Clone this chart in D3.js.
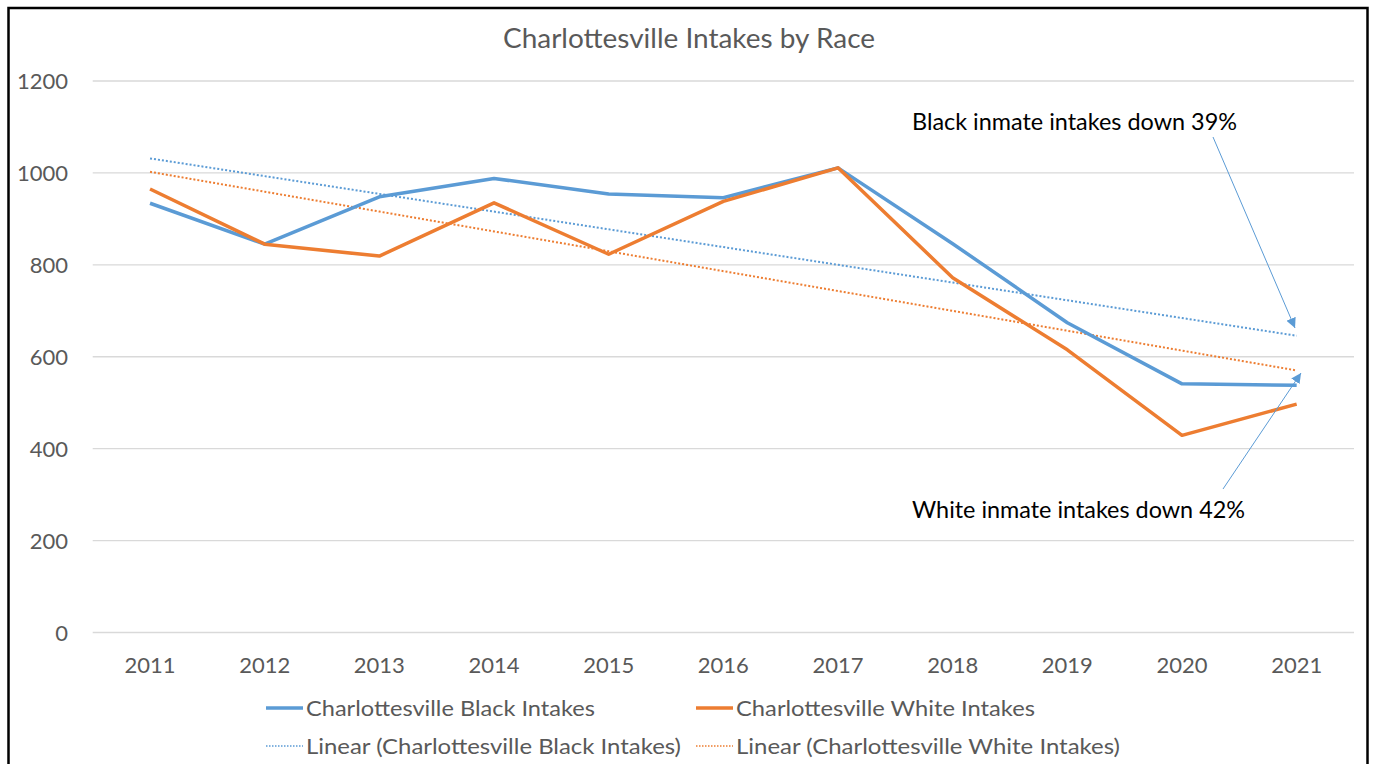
<!DOCTYPE html>
<html>
<head>
<meta charset="utf-8">
<script src="https://cdn.jsdelivr.net/npm/d3@7"></script>
<style>
  body { margin: 0; background: #fff; }
  svg { display: block; font-family: Lato, "Open Sans", sans-serif; }
</style>
</head>
<body>
<div id="chart"></div>
<script>
// Data
const years = ["2011", "2012", "2013", "2014", "2015", "2016", "2017", "2018", "2019", "2020", "2021"];
const blackIntakes = [934, 845, 948, 988, 954, 946, 1011, 846, 674, 541, 538];
const whiteIntakes = [965, 845, 819, 935, 823, 938, 1011, 772, 615, 429, 497];
const yTicks = [0, 200, 400, 600, 800, 1000, 1200];

const title = "Charlottesville Intakes by Race";
const blackNote = "Black inmate intakes down 39%";
const whiteNote = "White inmate intakes down 42%";

// Setup
const svgWidth = 1375;
const svgHeight = 764;
const blue = "#5b9bd5";
const orange = "#ed7d31";
const grey = "#595959";

const svg = d3.select("#chart")
    .append("svg")
    .attr("width", svgWidth)
    .attr("height", svgHeight);

// outer chart frame (bottom edge is cut off in the reference)
svg.append("rect")
    .attr("x", 8.5).attr("y", 8)
    .attr("width", 1359).attr("height", 820)
    .attr("fill", "none")
    .attr("stroke", "#000")
    .attr("stroke-width", 2.5);

const x = d3.scalePoint()
    .domain(years)
    .range([92.7, 1354])
    .padding(0.5);

const y = d3.scaleLinear()
    .domain([0, 1200])
    .range([632.5, 81]);

// gridlines
svg.append("g")
  .selectAll("line")
  .data(yTicks)
  .enter().append("line")
    .attr("x1", 92.7).attr("x2", 1354)
    .attr("y1", d => y(d)).attr("y2", d => y(d))
    .attr("stroke", "#d9d9d9")
    .attr("stroke-width", 1.3);

// y axis labels
svg.append("g")
  .selectAll("text")
  .data(yTicks)
  .enter().append("text")
    .attr("x", 68)
    .attr("y", d => y(d) + 8)
    .attr("text-anchor", "end")
    .attr("font-size", 22)
    .attr("fill", grey)
    .text(d => d);

// x axis labels
svg.append("g")
  .selectAll("text")
  .data(years)
  .enter().append("text")
    .attr("x", d => x(d))
    .attr("y", 673)
    .attr("text-anchor", "middle")
    .attr("font-size", 22)
    .attr("fill", grey)
    .text(d => d);

// linear trend lines (least squares, as the spreadsheet does)
function trend(values) {
  const n = values.length;
  const mx = (n - 1) / 2;
  const my = d3.mean(values);
  let sxy = 0, sxx = 0;
  values.forEach((v, i) => { sxy += (i - mx) * (v - my); sxx += (i - mx) * (i - mx); });
  const slope = sxy / sxx;
  return values.map((v, i) => my + slope * (i - mx));
}

const line = d3.line()
    .x((d, i) => x(years[i]))
    .y(d => y(d));

svg.append("path")
    .datum(trend(blackIntakes))
    .attr("d", line)
    .attr("fill", "none")
    .attr("stroke", blue)
    .attr("stroke-width", 2)
    .attr("stroke-dasharray", "2,2");

svg.append("path")
    .datum(trend(whiteIntakes))
    .attr("d", line)
    .attr("fill", "none")
    .attr("stroke", orange)
    .attr("stroke-width", 2)
    .attr("stroke-dasharray", "2,2");

svg.append("path")
    .datum(blackIntakes)
    .attr("d", line)
    .attr("fill", "none")
    .attr("stroke", blue)
    .attr("stroke-width", 3.5)
    .attr("stroke-linejoin", "round");

svg.append("path")
    .datum(whiteIntakes)
    .attr("d", line)
    .attr("fill", "none")
    .attr("stroke", orange)
    .attr("stroke-width", 3.5)
    .attr("stroke-linejoin", "round");

// title
svg.append("text")
    .attr("x", 689)
    .attr("y", 48)
    .attr("text-anchor", "middle")
    .attr("font-size", 27)
    .attr("fill", grey)
    .attr("textLength", 372)
    .attr("lengthAdjust", "spacingAndGlyphs")
    .text(title);

// annotations with arrows
svg.append("defs").append("marker")
    .attr("id", "head")
    .attr("viewBox", "0 0 10 10")
    .attr("refX", 10).attr("refY", 5)
    .attr("markerWidth", 10).attr("markerHeight", 10)
    .attr("markerUnits", "userSpaceOnUse")
    .attr("orient", "auto")
  .append("path")
    .attr("d", "M0,0L10,5L0,10Z")
    .attr("fill", blue);

svg.append("text")
    .attr("x", 912).attr("y", 130)
    .attr("font-size", 23)
    .attr("fill", "#000")
    .attr("textLength", 325)
    .attr("lengthAdjust", "spacingAndGlyphs")
    .text(blackNote);

svg.append("line")
    .attr("x1", 1213).attr("y1", 137)
    .attr("x2", 1295).attr("y2", 328)
    .attr("stroke", blue).attr("stroke-width", 1)
    .attr("marker-end", "url(#head)");

svg.append("text")
    .attr("x", 912).attr("y", 518)
    .attr("font-size", 23)
    .attr("fill", "#000")
    .attr("textLength", 333)
    .attr("lengthAdjust", "spacingAndGlyphs")
    .text(whiteNote);

svg.append("line")
    .attr("x1", 1223).attr("y1", 489)
    .attr("x2", 1301).attr("y2", 373)
    .attr("stroke", blue).attr("stroke-width", 1)
    .attr("marker-end", "url(#head)");

// legend
const legendItems = [
  {label: "Charlottesville Black Intakes", color: blue, dotted: false, x: 266, y: 708, len: 289},
  {label: "Charlottesville White Intakes", color: orange, dotted: false, x: 696, y: 708, len: 299},
  {label: "Linear (Charlottesville Black Intakes)", color: blue, dotted: true, x: 266, y: 746, len: 375},
  {label: "Linear (Charlottesville White Intakes)", color: orange, dotted: true, x: 696, y: 746, len: 384}
];

const legend = svg.append("g")
  .selectAll("g")
  .data(legendItems)
  .enter().append("g");

legend.append("line")
    .attr("x1", d => d.x).attr("x2", d => d.x + 37)
    .attr("y1", d => d.y).attr("y2", d => d.y)
    .attr("stroke", d => d.color)
    .attr("stroke-width", d => d.dotted ? 1.5 : 3.5)
    .attr("stroke-dasharray", d => d.dotted ? "1.5,1.5" : null);

legend.append("text")
    .attr("x", d => d.x + 40)
    .attr("y", d => d.y + 8)
    .attr("font-size", 22)
    .attr("fill", grey)
    .attr("textLength", d => d.len)
    .attr("lengthAdjust", "spacingAndGlyphs")
    .text(d => d.label);
</script>
</body>
</html>
